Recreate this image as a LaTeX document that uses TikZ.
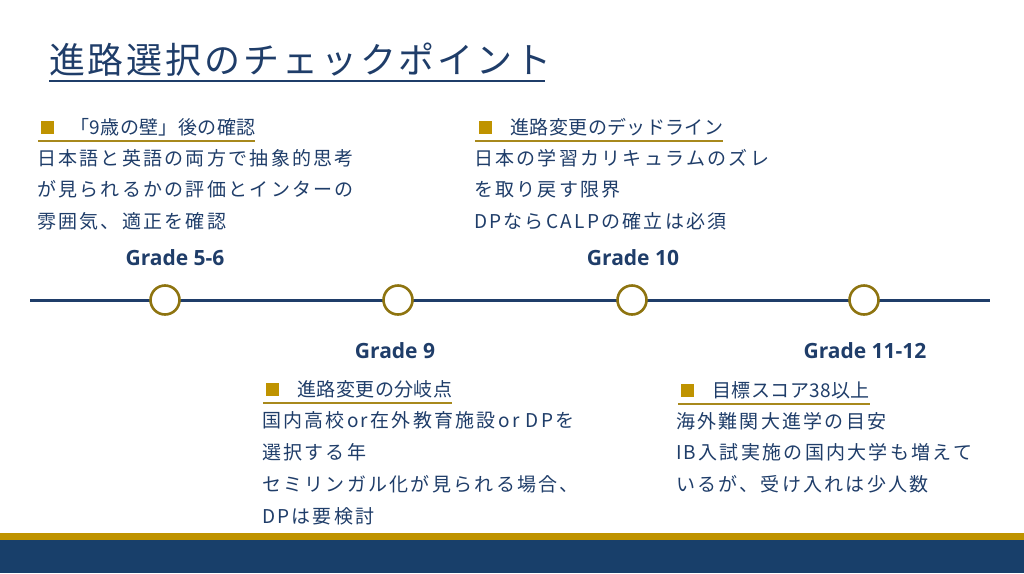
\documentclass[tikz,border=0pt]{standalone}
\usepackage{fontspec}
\newfontfamily\titlefont[LetterSpace=8]{Noto Sans CJK JP}
\newfontfamily\headfont[LetterSpace=2]{Noto Sans CJK JP}
\newfontfamily\bodyfont[LetterSpace=12]{Noto Sans CJK JP}
\newfontfamily\gradefont{Open Sans}
\usetikzlibrary{positioning}
\definecolor{navy}{HTML}{1F3D69}
\definecolor{bandblue}{HTML}{183F6A}
\definecolor{gold}{HTML}{BF9300}
\definecolor{ringgold}{HTML}{8E7410}
\definecolor{linegold}{HTML}{A8891C}

\begin{document}
\begin{tikzpicture}[x=1pt, y=-1pt,
    every node/.style = {inner sep=0pt, outer sep=0pt, text=navy},
    milestone/.style = {circle, draw=ringgold, line width=2.6pt,
        fill=white, minimum size=29pt},
    grade/.style = {font=\gradefont\bfseries\fontsize{21}{24}\selectfont},
    marker/.style = {fill=gold, minimum size=13pt},
    heading/.style = {anchor=west, font=\headfont\fontsize{19}{22}\selectfont},
    bodytext/.style = {anchor=north west, align=left,
        font=\bodyfont\fontsize{19}{31.8}\selectfont},
    underline/.style = {draw=linegold, line width=1.5pt}]

    \useasboundingbox (0,0) rectangle (1024,573);

    % title
    \node[anchor=west, font=\titlefont\fontsize{36}{40}\selectfont] (title) at (49,60)
        {進路選択のチェックポイント};
    \draw[navy, line width=1.2pt] (49,81) -- (545,81);

    % timeline
    \coordinate (start) at (30,300);
    \coordinate (end) at (990,300);
    \draw[navy, line width=3pt] (start) -- (end);
    \node[milestone] (g56) at (165,300) {};
    \node[milestone] (g9) at (398,300) {};
    \node[milestone] (g10) at (632,300) {};
    \node[milestone] (g1112) at (864,300) {};

    \node[grade] (lab56) at (175,258) {Grade 5-6};
    \node[grade] (lab10) at (633,258) {Grade 10};
    \node[grade] (lab9) at (395,351) {Grade 9};
    \node[grade] (lab1112) at (865,351) {Grade 11-12};

    % grade 5-6
    \node[marker] (sqA) at (47,127) {};
    \node[heading, right=17pt of sqA] (hA) {「9歳の壁」後の確認};
    \draw[underline] (38,141) -- (hA.east |- 0,141);
    \node[bodytext] (bA) at (37,149)
        {日本語と英語の両方で抽象的思考\\
         が見られるかの評価とインターの\\
         雰囲気、適正を確認};

    % grade 10
    \node[marker] (sqB) at (485,127) {};
    \node[heading, right=19pt of sqB] (hB) {進路変更のデッドライン};
    \draw[underline] (475,141) -- (hB.east |- 0,141);
    \node[bodytext] (bB) at (474,149)
        {日本の学習カリキュラムのズレ\\
         を取り戻す限界\\
         DPならCALPの確立は必須};

    % grade 9
    \node[marker] (sqC) at (272,389) {};
    \node[heading, right=19pt of sqC] (hC) {進路変更の分岐点};
    \draw[underline] (263,403) -- (hC.east |- 0,403);
    \node[bodytext] (bC) at (262,412)
        {国内高校or在外教育施設or DPを\\
         選択する年\\
         セミリンガル化が見られる場合、\\
         DPは要検討};

    % grade 11-12
    \node[marker] (sqD) at (687,390) {};
    \node[heading, right=19pt of sqD] (hD) {目標スコア38以上};
    \draw[underline] (678,404) -- (hD.east |- 0,404);
    \node[bodytext] (bD) at (676,412)
        {海外難関大進学の目安\\
         IB入試実施の国内大学も増えて\\
         いるが、受け入れは少人数};

    % footer band
    \fill[gold] (0,533) rectangle (1024,540);
    \fill[bandblue] (0,540) rectangle (1024,573);
\end{tikzpicture}
\end{document}
